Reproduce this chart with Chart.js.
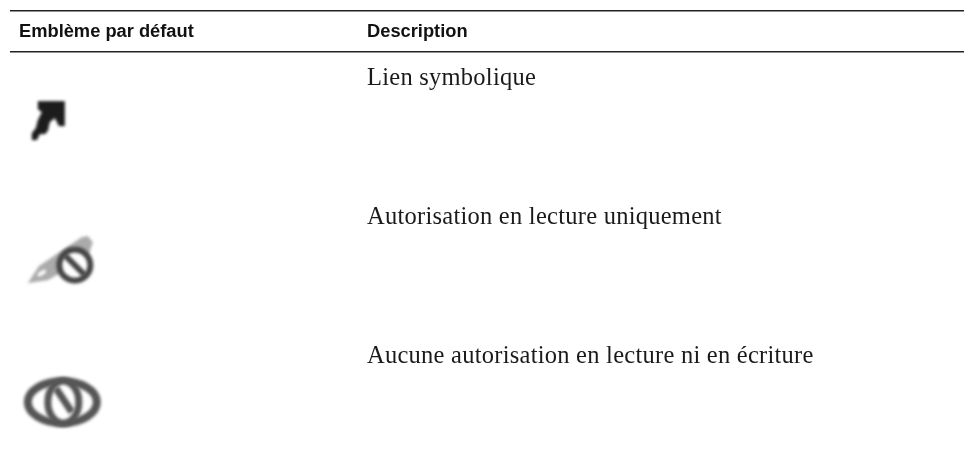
<!DOCTYPE html>
<html>
<head>
<meta charset="utf-8">
<style>
html, body { margin: 0; background: #fff; }
canvas { display: block; }
</style>
<script src="https://cdn.jsdelivr.net/npm/chart.js@4/dist/chart.umd.js"></script>
</head>
<body>
<canvas id="table" width="974" height="468"></canvas>
<script>
// the picture is a two column table, rows are the y scale, columns the x scale
var headers = ['Emblème par défaut', 'Description'];
var descriptions = [
    'Lien symbolique',
    'Autorisation en lecture uniquement',
    'Aucune autorisation en lecture ni en écriture'
];
var emblems = ['link', 'readonly', 'noaccess'];

var headerRow = -0.345;
var ruleRows = [-0.532, -0.237];
var iconColumn = 0.12;
var iconRowOffset = 0.245;

function path(ctx, pts) {
    ctx.beginPath();
    pts.forEach(function (p, i) {
        if (i === 0) ctx.moveTo(p[0], p[1]);
        else ctx.lineTo(p[0], p[1]);
    });
    ctx.closePath();
}

function barredRing(ctx, x, y, rx, ry, width, color, bar) {
    ctx.fillStyle = '#fff';
    ctx.strokeStyle = color;
    ctx.lineWidth = width;
    ctx.beginPath();
    ctx.ellipse(x, y, rx, ry, 0, 0, Math.PI * 2);
    ctx.fill();
    ctx.stroke();
    if (bar) {
        ctx.beginPath();
        ctx.moveTo(bar[0], bar[1]);
        ctx.lineTo(bar[2], bar[3]);
        ctx.stroke();
    }
}

var drawIcon = {
    link: function (ctx) {
        ctx.fillStyle = '#1c1c1c';
        path(ctx, [[-23, -18], [4, -18], [4, 7], [-2, 7], [-6, -1], [-11, 3], [-13, 12], [-16, 15],
            [-21, 15], [-24, 21], [-29, 21], [-29, 14], [-25, 9], [-23, 1], [-19, -7], [-23, -10]]);
        ctx.fill();
    },
    readonly: function (ctx) {
        ctx.fillStyle = '#ababab';
        path(ctx, [[-33, 25], [-22, 8], [21, -21], [27, -22], [32, -16], [28, -4], [-4, 17], [-13, 22]]);
        ctx.fill();
        ctx.fillStyle = '#fff';
        ctx.beginPath();
        ctx.ellipse(-19, 15, 5, 2, -0.6, 0, Math.PI * 2);
        ctx.fill();
        barredRing(ctx, 14, 7, 15.5, 15.5, 6, '#444', [4, -3, 24, 17]);
    },
    noaccess: function (ctx) {
        barredRing(ctx, 1.5, 5, 34.5, 21, 8, '#555');
        barredRing(ctx, 2.5, 5, 15.5, 21, 7, '#555', [-5, -9, 11, 15]);
    }
};

function makeIcon(name) {
    var c = document.createElement('canvas');
    c.width = 110;
    c.height = 80;
    var ctx = c.getContext('2d');
    ctx.filter = 'blur(1.4px)';
    ctx.translate(55, 40);
    drawIcon[name](ctx);
    return c;
}

var tableText = {
    id: 'tableText',
    afterDatasetsDraw: function (chart) {
        var ctx = chart.ctx;
        var x = chart.scales.x;
        var y = chart.scales.y;
        ctx.save();
        ctx.textBaseline = 'alphabetic';
        ctx.textAlign = 'left';
        ctx.fillStyle = '#111';
        ctx.font = 'bold 18.3px "Liberation Sans"';
        headers.forEach(function (h, i) {
            ctx.fillText(h, x.getPixelForValue(i), y.getPixelForValue(headerRow));
        });
        ctx.fillStyle = '#1a1a1a';
        ctx.font = '24.5px "Liberation Serif"';
        ctx.letterSpacing = '0.25px';
        descriptions.forEach(function (d, i) {
            ctx.fillText(d, x.getPixelForValue(1), y.getPixelForValue(i));
        });
        ctx.restore();
    }
};

var ctx = document.getElementById('table').getContext('2d');
var chart = new Chart(ctx, {
    type: 'scatter',
    data: {
        datasets: [{
            label: 'Emblème par défaut',
            data: emblems.map(function (e, i) { return { x: iconColumn, y: i + iconRowOffset }; }),
            pointStyle: emblems.map(makeIcon),
            showLine: false
        }]
    },
    options: {
        responsive: false,
        animation: false,
        layout: { autoPadding: false, padding: { left: 10, right: 10, top: 0, bottom: 0 } },
        plugins: { legend: { display: false }, tooltip: { enabled: false } },
        scales: {
            x: { type: 'linear', display: false, min: -0.0259, max: 2.7155 },
            y: {
                type: 'linear',
                reverse: true,
                min: -0.6115,
                max: 2.755,
                border: { display: false },
                grid: { color: '#222', lineWidth: 1.5, drawTicks: false },
                ticks: { display: false },
                afterBuildTicks: function (axis) {
                    axis.ticks = ruleRows.map(function (r) { return { value: r }; });
                }
            }
        }
    },
    plugins: [tableText]
});
</script>
</body>
</html>
